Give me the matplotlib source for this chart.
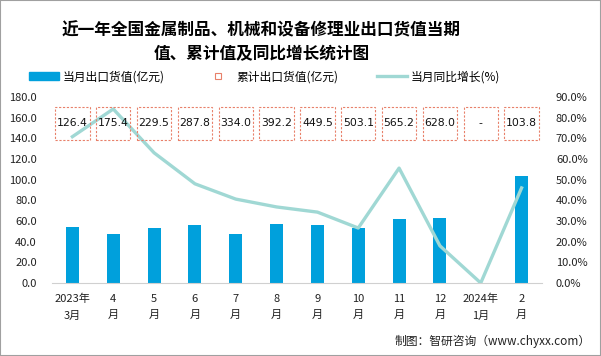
import numpy as np
import matplotlib
matplotlib.use("Agg")
from matplotlib import pyplot as plt
from matplotlib.patches import Rectangle, Patch
from matplotlib.lines import Line2D

plt.rcParams['font.family'] = ['Noto Sans CJK SC', 'DejaVu Sans']
plt.rcParams['axes.unicode_minus'] = False

# 数据
months = ["2023年\n3月", "4\n月", "5\n月", "6\n月", "7\n月", "8\n月", "9\n月",
          "10\n月", "11\n月", "12\n月", "2024年\n1月", "2\n月"]
monthly = [54.5, 47.5, 53.5, 56.5, 47.0, 57.5, 56.5, 53.5, 61.5, 62.5, np.nan, 103.8]
cumulative = ["126.4", "175.4", "229.5", "287.8", "334.0", "392.2", "449.5",
              "503.1", "565.2", "628.0", "-", "103.8"]
growth = [70.8, 84.2, 63.0, 48.0, 40.6, 36.8, 34.3, 26.6, 55.6, 18.0, 0.0, 46.0]

bar_color = "#00A0DC"
line_color = "#A0D8D4"
box_color = "#E8806A"

fig = plt.figure(figsize=(6.01, 3.56), dpi=100)
ax = fig.add_axes([52 / 601, 73 / 356, 490 / 601, 186 / 356])
ax2 = ax.twinx()

x = np.arange(len(months))
ax.bar(x, monthly, width=0.32, color=bar_color, zorder=2)
ax2.plot(x, growth, color=line_color, lw=2.4, solid_joinstyle='round', zorder=3)

# 累计值方框（画在右轴上，压在折线之上）
for i, s in enumerate(cumulative):
    ax2.add_patch(Rectangle((i - 0.42, 69.25), 0.84, 16, fill=False, ec=box_color,
                            lw=0.8, ls=(0, (2, 1.5)), zorder=4))
    ax2.text(i, 77.25, s, ha="center", va="center", fontsize=7.8, color="#111111",
             family=['DejaVu Sans'], zorder=5)

ax.set_xlim(-0.5, len(months) - 0.5)
ax.set_ylim(0, 180)
ax.set_yticks(np.arange(0, 181, 20))
ax.set_yticklabels([f"{v:.1f}" for v in range(0, 181, 20)])
ax2.set_ylim(0, 90)
ax2.set_yticks(np.arange(0, 91, 10))
ax2.set_yticklabels([f"{v:.1f}%" for v in range(0, 91, 10)])
ax.set_xticks(x)
ax.set_xticklabels(months, linespacing=1.75)

for a in (ax, ax2):
    for sp in a.spines.values():
        sp.set_visible(False)
    a.tick_params(length=0, labelsize=8, colors="#222222")
ax.spines['bottom'].set_visible(True)
ax.spines['bottom'].set_color("#D0D0D0")
ax.tick_params(axis='x', pad=8)
ax.tick_params(axis='y', pad=11)
ax2.tick_params(axis='y', pad=10)

fig.suptitle("近一年全国金属制品、机械和设备修理业出口货值当期\n值、累计值及同比增长统计图",
             x=0.435, y=0.94, fontsize=12, fontweight="bold", linespacing=1.4)

handles = [Patch(color=bar_color),
           Line2D([], [], marker='s', ls='none', mfc='white', mec=box_color, ms=5, mew=0.8),
           Line2D([], [], color=line_color, lw=2.4)]
labels = ["当月出口货值(亿元)", "累计出口货值(亿元)", "当月同比增长(%)"]
fig.legend(handles, labels, loc="center", bbox_to_anchor=(0.44, 0.785), ncol=3,
           frameon=False, fontsize=8.5, columnspacing=3.2, handlelength=2.6,
           handleheight=0.7, handletextpad=0.3)

fig.text(0.982, 0.04, "制图：智研咨询（www.chyxx.com）", ha="right", va="center",
         fontsize=8.5, color="#222222")

fig.patches.append(Rectangle((0, 0), 1, 1, transform=fig.transFigure, fill=False,
                             ec="#A0A0A0", lw=1.5))

fig.savefig("out.png", dpi=100)
